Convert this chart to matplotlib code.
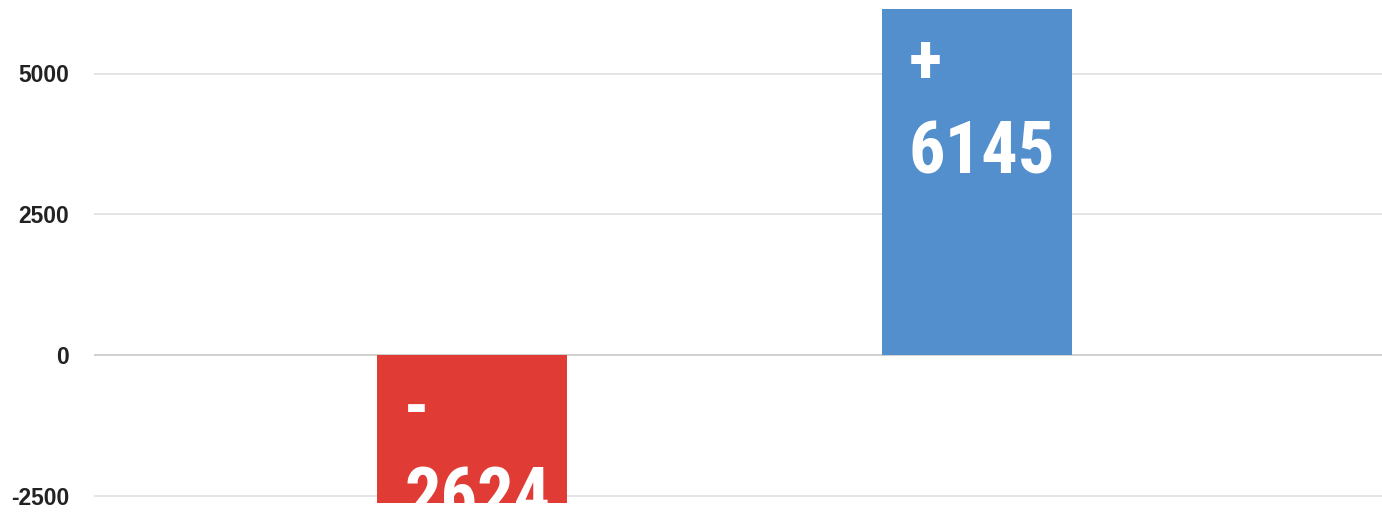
import matplotlib
matplotlib.use('Agg')
import matplotlib.pyplot as plt

# datos del grafico
categorias = ['Bajada', 'Subida']
valores = [-2624, 6145]
signos = ['-', '+']
colores = ['#E03B34', '#528FCC']
ticks_y = [-2500, 0, 2500, 5000]

W, H, DPI = 1382, 514, 100
fig = plt.figure(figsize=(W / DPI, H / DPI), dpi=DPI)
izq = 94 / W
ax = fig.add_axes([izq, 0, 1 - izq, 1])

# escala aproximada leida de las lineas de la grilla
esc = 0.0563
cero = 355
ax.set_ylim(-(H - cero) / esc, cero / esc)
ax.set_xlim(-(472 - 94) / 505, 1 + (W - 977) / 505)

ancho = 190 / 505
x = list(range(len(categorias)))
ax.bar(x, valores, width=ancho, color=colores, zorder=3)

for yt in ticks_y:
    ax.axhline(yt, color='#cccccc' if yt == 0 else '#e3e3e3', lw=1.3, zorder=1)

ax.set_yticks(ticks_y)
ax.set_yticklabels([str(t) for t in ticks_y], fontsize=16.5, fontweight='bold',
                   color='#222222', family=['Liberation Sans', 'DejaVu Sans'])
ax.tick_params(axis='y', length=0, pad=18)
ax.set_xticks([])
for s in ax.spines.values():
    s.set_visible(False)

fuente = ['Roboto Condensed', 'DejaVu Sans']
px = 0.72
for xi, v, sg in zip(x, valores, signos):
    tope = max(v, 0)
    izq_barra = xi - ancho / 2
    ax.annotate(sg, (izq_barra, tope), xytext=(27 * px, -74 * px), textcoords='offset points',
                ha='left', va='baseline', color='white', fontsize=50, fontweight='bold',
                family=fuente, zorder=4)
    ax.annotate(str(abs(v)), (izq_barra, tope), xytext=(27 * px, -164 * px), textcoords='offset points',
                ha='left', va='baseline', color='white', fontsize=52, fontweight='bold',
                family=fuente, zorder=4)

fig.savefig('out.png', dpi=DPI, facecolor='white')
